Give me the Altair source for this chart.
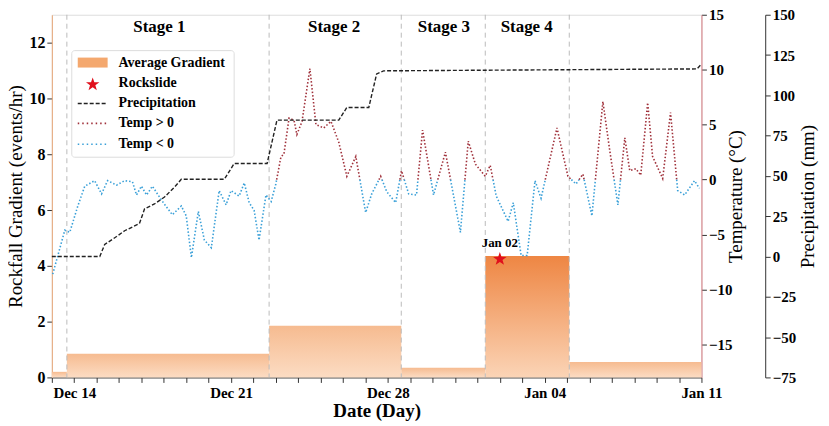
import pandas as pd
import altair as alt

FONT = "Liberation Serif"

# x values are days after Dec 13 00:00
tick_days = list(range(0, 30))
tick_labels = {1: "Dec 14", 8: "Dec 21", 15: "Dec 28", 22: "Jan 04", 29: "Jan 11"}

stage_lines = [0.67, 9.7, 15.6, 19.35, 23.1]
stage_names = ["Stage 1", "Stage 2", "Stage 3", "Stage 4"]
stage_label_x = [4.8, 12.6, 17.5, 21.2]

bar_start = [0, 0.67, 9.7, 15.6, 19.35, 23.1]
bar_end = [0.67, 9.7, 15.6, 19.35, 23.1, 29]
bar_value = [0.2, 0.85, 1.85, 0.35, 4.35, 0.55]

rock_day = [20.0]
rock_value = [4.24]

temp_day = [0.04, 0.58, 0.8, 1.16, 1.47, 1.91, 2.22, 2.49, 2.89, 3.25, 3.6, 3.78, 4.0, 4.23,
            4.49, 4.94, 5.38, 5.78, 6.0, 6.23, 6.54, 6.81, 7.12, 7.47, 7.78, 8.0, 8.36, 8.59,
            8.81, 9.03, 9.25, 9.56, 9.79, 10.0, 10.23, 10.36, 10.59, 10.81, 10.94, 11.17,
            11.52, 11.79, 12.14, 12.46, 12.81, 13.17, 13.57, 14.01, 14.28, 14.68, 14.95,
            15.35, 15.61, 15.93, 16.28, 16.55, 17.04, 17.57, 18.24, 18.59, 18.91, 19.35,
            19.57, 19.84, 20.37, 20.6, 20.95, 21.22, 21.57, 21.84, 22.55, 23.04, 23.4, 23.71,
            24.11, 24.6, 24.91, 25.27, 25.58, 25.8, 26.07, 26.29, 26.6, 26.82, 27.27, 27.62,
            27.94, 28.25, 28.69, 28.91]
temp_value = [-8.6, -4.6, -4.8, -2.4, -0.6, -0.1, -1.3, -0.1, -0.5, -0.1, -0.2, -1.4, -0.6, -1.4,
              -0.6, -2.0, -3.2, -2.4, -3.3, -7.1, -2.9, -5.5, -6.2, -1.0, -2.3, -1.0, -1.5, -0.3,
              -2.1, -2.8, -5.5, -1.4, -2.0, -0.4, 2.1, 2.3, 5.6, 5.4, 4.1, 5.3,
              10.1, 5.0, 4.7, 5.3, 3.4, 0.3, 2.1, -3.0, -1.3, 0.3, -1.1,
              -2.1, 0.8, -1.3, -1.4, 4.5, -1.4, 2.5, -4.8, 3.5, 1.4, 0.3,
              1.3, -1.5, -3.8, -2.1, -6.9, -6.9, -0.1, -1.7, 4.7, 0.3, -0.4, 0.5,
              -3.3, 7.1, 2.6, -2.3, 3.8, 0.8, 1.0, 0.4, 7.0, 2.1, 0.1, 6.1,
              -1.0, -1.4, -0.1, -0.8]

precip_day = [0, 2.14, 2.36, 2.89, 3.25, 3.91, 4.14, 4.58, 5.03, 5.47, 5.78, 7.7, 8.14, 9.61,
              10.05, 12.81, 13.17, 14.15, 14.5, 14.81, 28.8, 29]
precip_value = [0, 0, 7.5, 12.4, 16, 20.4, 29.6, 32.6, 36.9, 43, 47.9, 47.9, 57.7, 57.7,
                84.6, 84.6, 92.5, 92.5, 113.3, 115.2, 116.4, 119.4]

# split temperature into above / below zero pieces
rows = []
seg = 0
for i in range(len(temp_day)):
    d, t = temp_day[i], temp_value[i]
    sign = t >= 0
    if i > 0:
        d0, t0 = temp_day[i - 1], temp_value[i - 1]
        if (t0 >= 0) != sign:
            dc = d0 + (0 - t0) * (d - d0) / (t - t0)
            rows.append({"day": dc, "temp": 0, "seg": seg, "pos": t0 >= 0})
            seg += 1
            rows.append({"day": dc, "temp": 0, "seg": seg, "pos": sign})
    rows.append({"day": d, "temp": t, "seg": seg, "pos": sign})
temp_df = pd.DataFrame(rows)
temp_df["kind"] = temp_df["pos"].map({True: "Temp > 0", False: "Temp < 0"})

bars = pd.DataFrame({"start": bar_start, "end": bar_end, "value": bar_value})
precip_df = pd.DataFrame({"day": precip_day, "precip": precip_value})

label_expr = " : ".join(
    f"datum.value == {k} ? '{v}'" for k, v in tick_labels.items()) + " : ''"

X_AXIS = alt.Axis(values=tick_days, labelExpr=label_expr, labelFont=FONT,
                  labelFontSize=15, labelFontWeight="bold", titleFont=FONT,
                  titleFontSize=19, titleFontWeight="bold", grid=False,
                  labelOverlap=False, labelBound=False, labelFlush=False,
                  tickColor="#333", domainColor="#333", labelColor="#000",
                  titleColor="#000", labelPadding=3, titlePadding=1)
X_SCALE = alt.Scale(domain=[0, 29], nice=False, zero=False)


def xq(field):
    return alt.X(field, title="Date (Day)", scale=X_SCALE, axis=X_AXIS)


y_grad = alt.Y("value:Q", title="Rockfall Gradient (events/hr)",
               scale=alt.Scale(domain=[0, 13], nice=False),
               axis=alt.Axis(values=[0, 2, 4, 6, 8, 10, 12], labelFont=FONT, labelFontSize=16,
                             labelFontWeight="bold", titleFont=FONT, titleFontSize=19,
                             titleFontWeight="normal", grid=False, domainColor="#e8a878",
                             tickColor="#333", labelColor="#000", titleColor="#000",
                             titlePadding=3))

light = alt.Gradient(gradient="linear", x1=0, x2=0, y1=0, y2=1,
                     stops=[alt.GradientStop(color="#f6bb90", offset=0),
                            alt.GradientStop(color="#fcdcc3", offset=1)])
strong = alt.Gradient(gradient="linear", x1=0, x2=0, y1=0, y2=1,
                      stops=[alt.GradientStop(color="#ee8643", offset=0),
                             alt.GradientStop(color="#fbd4b6", offset=1)])

bar_light = alt.Chart(bars).transform_filter("datum.value < 4").mark_rect(fill=light).encode(
    x=xq("start:Q"), x2="end:Q", y=y_grad, y2=alt.datum(0))
bar_strong = alt.Chart(bars).transform_filter("datum.value >= 4").mark_rect(fill=strong).encode(
    x=xq("start:Q"), x2="end:Q", y="value:Q", y2=alt.datum(0))

vlines = alt.Chart(pd.DataFrame({"start": stage_lines})).mark_rule(
    color="#bbbbbb", strokeDash=[5, 4], strokeWidth=1).encode(
    x=xq("start:Q"), y=alt.value(0), y2=alt.value(364))

stage_text = alt.Chart(pd.DataFrame({"start": stage_label_x, "name": stage_names})).mark_text(
    font=FONT, fontSize=17, fontWeight="bold", baseline="middle", color="#000").encode(
    x=xq("start:Q"), y=alt.value(12), text="name:N")

STAR = "M0,-1L0.235,-0.324L0.951,-0.309L0.38,0.124L0.588,0.809L0,0.4L-0.588,0.809L-0.38,0.124L-0.951,-0.309L-0.235,-0.324Z"

star = alt.Chart(pd.DataFrame({"start": rock_day, "value": rock_value, "lab": ["Jan 02"]}))
star_mark = star.mark_point(shape=STAR, filled=True, color="#e0101c", size=200, opacity=1).encode(
    x=xq("start:Q"), y="value:Q")
star_text = star.mark_text(font=FONT, fontSize=13, fontWeight="bold", dy=-16, color="#000").encode(
    x=xq("start:Q"), y="value:Q", text="lab:N")

# manual legend box
leg_items = pd.DataFrame({
    "name": ["Average Gradient", "Rockslide", "Precipitation", "Temp > 0", "Temp < 0"],
    "ypix": [48, 69, 89, 109, 130]})
leg_box = alt.Chart(pd.DataFrame({"a": [0]})).mark_rect(
    fill="white", stroke="#dddddd", cornerRadius=3).encode(
    x=alt.value(20), x2=alt.value(183), y=alt.value(36), y2=alt.value(143))
leg_text = alt.Chart(leg_items).mark_text(
    font=FONT, fontSize=14, fontWeight="bold", align="left", baseline="middle", color="#000").encode(
    x=alt.value(67), y=alt.Y("ypix:Q", scale=None), text="name:N")
leg_patch = alt.Chart(pd.DataFrame({"a": [0]})).mark_rect(fill="#f4a86e").encode(
    x=alt.value(26), x2=alt.value(56), y=alt.value(43), y2=alt.value(53))
leg_star = alt.Chart(pd.DataFrame({"a": [0]})).mark_point(
    shape=STAR, filled=True, color="#e0101c", size=200, opacity=1).encode(x=alt.value(41), y=alt.value(70))
leg_lines = alt.Chart(pd.DataFrame({
    "ypix": [89, 109, 130], "c": ["#222222", "#a0303a", "#3aa0d8"],
    "d": ["dash", "dot", "dot"]})).mark_rule(strokeWidth=1.6).encode(
    x=alt.value(26), x2=alt.value(56), y=alt.Y("ypix:Q", scale=None),
    color=alt.Color("c:N", scale=None),
    strokeDash=alt.StrokeDash("d:N", scale=alt.Scale(domain=["dash", "dot"], range=[[4, 2], [1.5, 3]]), legend=None))

grad_layer = alt.layer(bar_light, bar_strong, vlines, star_mark, star_text, stage_text)

temp_layer = alt.Chart(temp_df).mark_line(strokeDash=[1.5, 2], strokeWidth=1.6).encode(
    x=xq("day:Q"),
    y=alt.Y("temp:Q", title="Temperature (°C)", scale=alt.Scale(domain=[-18, 15], nice=False),
            axis=alt.Axis(orient="right", values=[-15, -10, -5, 0, 5, 10, 15], labelFont=FONT,
                          labelFontSize=15, labelFontWeight="bold", titleFont=FONT,
                          titleFontSize=19, titleFontWeight="normal", grid=False, titleAngle=270,
                          domainColor="#d87a80", tickColor="#333", labelColor="#000",
                          titleColor="#000", titlePadding=14)),
    detail="seg:N",
    color=alt.Color("kind:N", scale=alt.Scale(domain=["Temp > 0", "Temp < 0"],
                                              range=["#a0303a", "#3aa0d8"]), legend=None))

precip_layer = alt.Chart(precip_df).mark_line(
    color="#222222", strokeDash=[4, 2], strokeWidth=1.4).encode(
    x=xq("day:Q"),
    y=alt.Y("precip:Q", title="Precipitation (mm)", scale=alt.Scale(domain=[-75, 150], nice=False),
            axis=alt.Axis(orient="right", offset=64, values=[-75, -50, -25, 0, 25, 50, 75, 100, 125, 150],
                          labelFont=FONT, labelFontSize=15, labelFontWeight="bold", titleAngle=270,
                          titleFont=FONT, titleFontSize=19, titleFontWeight="normal", grid=False,
                          domainColor="#333", tickColor="#333", labelColor="#000",
                          titleColor="#000", titlePadding=22)))

legend_layer = alt.layer(leg_box, leg_patch, leg_star, leg_lines, leg_text)

chart = alt.layer(grad_layer, temp_layer, precip_layer, legend_layer).resolve_scale(
    y="independent", color="independent", strokeDash="independent").properties(
    width=652, height=364,
    autosize=alt.AutoSizeParams(type="none"),
    padding={"left": 44, "top": 6, "right": 120, "bottom": 50},
).configure_view(stroke="#333", strokeWidth=1).configure(background="white")

chart.save("out.html", embed_options={"renderer": "svg", "actions": False})
